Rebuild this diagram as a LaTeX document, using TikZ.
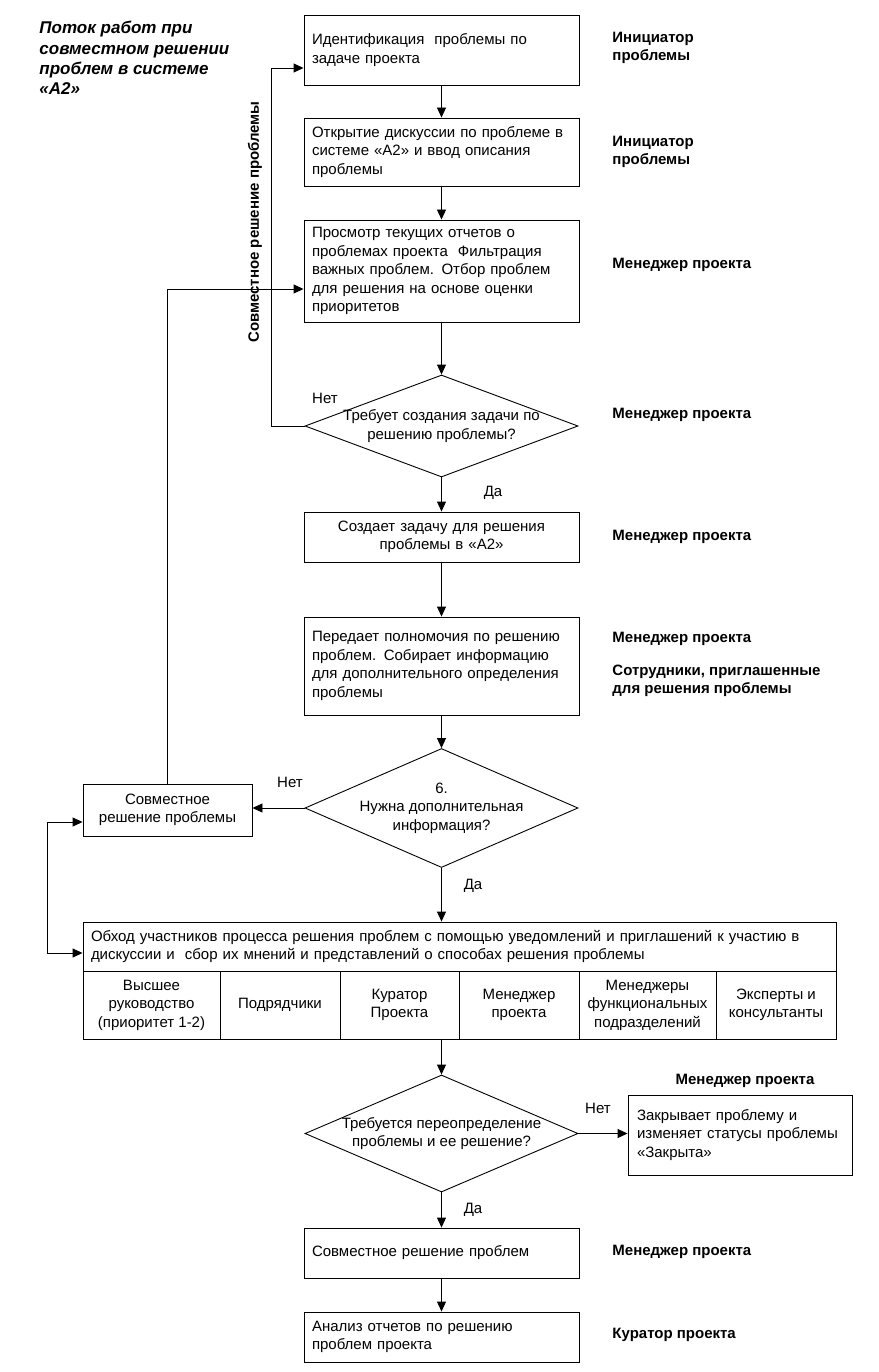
\documentclass[tikz,border=0pt]{standalone}
\usepackage{fontspec}
\setmainfont{Liberation Sans}
\usetikzlibrary{shapes.geometric,arrows.meta}
\begin{document}
\begin{tikzpicture}[x=1pt,y=-1pt,
  font=\fontsize{15}{18.5}\selectfont,
  line width=0.9pt,
  box/.style={draw, rectangle, minimum width=275pt, text width=259pt, inner xsep=8pt, inner ysep=0pt, align=left},
  cbox/.style={box, align=center},
  dia/.style={draw, diamond, minimum width=273pt, minimum height=#1, inner sep=0pt},
  cell/.style={draw, rectangle, minimum width=#1, minimum height=68pt, inner sep=0pt, align=center},
  role/.style={anchor=west, inner sep=0pt, font=\fontsize{15}{18.5}\selectfont\bfseries, align=left},
  lbl/.style={inner sep=0pt},
  arr/.style={-{Triangle[length=10pt,width=9pt]}},
]
\useasboundingbox (0,0) rectangle (878,1372);

% title
\node[anchor=north west, inner sep=0pt, align=left, font=\fontsize{17}{20.3}\selectfont\bfseries\itshape] (title) at (39,21)
  {Поток работ при\\совместном решении\\проблем в системе\\«А2»};

% main column
\node[box, minimum height=70pt] (b1) at (441.5,50) {Идентификация\ \ проблемы по\\задаче проекта};
\node[box, minimum height=68pt] (b2) at (441.5,152) {Открытие дискуссии по проблеме в\\системе «А2» и ввод описания\\проблемы};
\node[box, minimum height=102pt] (b3) at (441.5,271) {Просмотр текущих отчетов о\\проблемах проекта\ \ Фильтрация\\важных проблем. Отбор проблем\\для решения на основе оценки\\приоритетов};
\node[dia=102pt, label={[name=d1t, align=center, inner sep=0pt]center:{Требует создания задачи по\\решению проблемы?}}] (d1) at (441.5,426) {};
\node[cbox, minimum height=50pt] (b4) at (441.5,537) {Создает задачу для решения\\проблемы в «А2»};
\node[box, minimum height=98pt] (b5) at (441.5,666) {Передает полномочия по решению\\проблем. Собирает информацию\\для дополнительного определения\\проблемы};
\node[dia=119pt, label={[name=d2t, align=center, inner sep=0pt]center:{6.\\Нужна дополнительная\\информация?}}] (d2) at (441.5,808) {};
\node[draw, minimum width=169pt, minimum height=52pt, inner sep=0pt, align=center] (b6) at (167.5,810) {Совместное\\решение проблемы};

% big box
\node[draw, minimum width=753pt, minimum height=49pt, text width=737pt, inner xsep=8pt, inner ysep=0pt, align=left] (bt) at (459.5,946.5)
  {Обход участников процесса решения проблем с помощью уведомлений и приглашений к участию в\\дискуссии и\ \ сбор их мнений и представлений о способах решения проблемы};
\node[cell=137pt] (c1) at (151.5,1005) {Высшее\\руководство\\(приоритет 1-2)};
\node[cell=120pt] (c2) at (280,1005) {Подрядчики};
\node[cell=119pt] (c3) at (399.5,1005) {Куратор\\Проекта};
\node[cell=120pt] (c4) at (519,1005) {Менеджер\\проекта};
\node[cell=137pt] (c5) at (647.5,1005) {Менеджеры\\функциональных\\подразделений};
\node[cell=120pt] (c6) at (776,1005) {Эксперты и\\консультанты};

\node[dia=117pt, label={[name=d3t, align=center, inner sep=0pt]center:{Требуется переопределение\\проблемы и ее решение?}}] (d3) at (441.5,1133.5) {};
\node[draw, minimum width=224pt, minimum height=80pt, text width=206pt, inner xsep=9pt, inner ysep=0pt, align=left] (b7) at (740,1135)
  {Закрывает проблему и\\изменяет статусы проблемы\\«Закрыта»};
\node[box, minimum height=50pt] (b8) at (441.5,1253) {Совместное решение проблем};
\node[box, minimum height=50pt] (b9) at (441.5,1337) {Анализ отчетов по решению\\проблем проекта};

% roles
\node[role] (r1) at (612,48) {Инициатор\\проблемы};
\node[role] (r2) at (612,152) {Инициатор\\проблемы};
\node[role] (r3) at (612,265) {Менеджер проекта};
\node[role] (r4) at (612,415) {Менеджер проекта};
\node[role] (r5) at (612,537) {Менеджер проекта};
\node[role] (r6) at (612,639) {Менеджер проекта};
\node[role] (r7) at (612,681) {Сотрудники, приглашенные\\для решения проблемы};
\node[role, anchor=center] (r8) at (745,1081) {Менеджер проекта};
\node[role] (r9) at (612,1252) {Менеджер проекта};
\node[role] (r10) at (612,1335) {Куратор проекта};

\node[inner sep=0pt, rotate=90, font=\fontsize{15}{18.5}\selectfont\bfseries] (vt) at (255,222) {Совместное решение проблемы};

% yes/no labels
\node[lbl] (n1) at (325,398) {Нет};
\node[lbl] (y1) at (493,493) {Да};
\node[lbl] (n2) at (290,782) {Нет};
\node[lbl] (y2) at (473,886) {Да};
\node[lbl] (n3) at (598,1108) {Нет};
\node[lbl] (y3) at (473,1210) {Да};

% connectors
\draw[arr] (b1) -- (b2);
\draw[arr] (b2) -- (b3);
\draw[arr] (b3) -- (d1);
\draw[arr] (d1.west) -- ++(-33,0) |- ([yshift=-18pt]b1.west);
\draw[arr] (d1) -- (b4);
\draw[arr] (b4) -- (b5);
\draw[arr] (b5) -- (d2);
\draw[arr] (d2.west) -- (d2.west -| b6.east);
\draw[arr] (b6.north) |- ([yshift=-18pt]b3.west);
\draw[arr] (d2.south) -- (d2.south |- bt.north);
\draw[{Triangle[length=10pt,width=9pt]}-{Triangle[length=10pt,width=9pt]}] ([yshift=-12pt]b6.west) -- ++(-35,0) |- ([yshift=-6.5pt]bt.west);
\draw[arr] (d3.north |- c3.south) -- (d3.north);
\draw[arr] (d3.east) -- (d3.east -| b7.west);
\draw[arr] (d3.south) -- (b8.north);
\draw[arr] (b8) -- (b9);
\end{tikzpicture}
\end{document}
